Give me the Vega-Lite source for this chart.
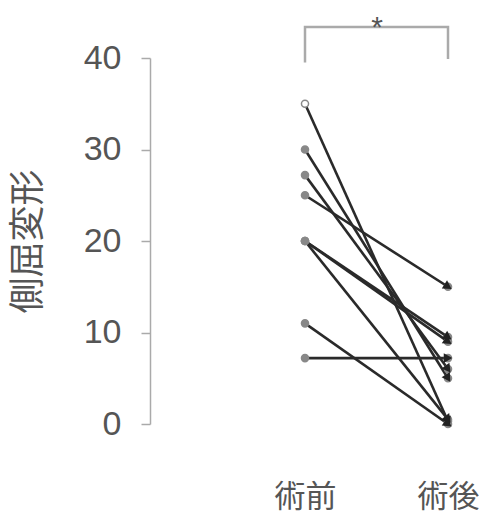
{
  "$schema": "https://vega.github.io/schema/vega-lite/v6.json",
  "autosize": "none",
  "width": 320,
  "height": 366,
  "padding": {"left": 150, "top": 58, "right": 9, "bottom": 92},
  "background": "white",
  "config": {
    "view": {"stroke": null},
    "font": "Liberation Sans, Noto Sans CJK JP",
    "axis": {"grid": false}
  },
  "datasets": {
    "pairs": [
      {"id": 1, "phase": "術前", "value": 35}, {"id": 1, "phase": "術後", "value": 0.3},
      {"id": 2, "phase": "術前", "value": 30}, {"id": 2, "phase": "術後", "value": 5},
      {"id": 3, "phase": "術前", "value": 27.2}, {"id": 3, "phase": "術後", "value": 6},
      {"id": 4, "phase": "術前", "value": 25}, {"id": 4, "phase": "術後", "value": 15},
      {"id": 5, "phase": "術前", "value": 20}, {"id": 5, "phase": "術後", "value": 9.5},
      {"id": 6, "phase": "術前", "value": 20}, {"id": 6, "phase": "術後", "value": 9},
      {"id": 7, "phase": "術前", "value": 20}, {"id": 7, "phase": "術後", "value": 0.5},
      {"id": 8, "phase": "術前", "value": 11}, {"id": 8, "phase": "術後", "value": 0},
      {"id": 9, "phase": "術前", "value": 7.2}, {"id": 9, "phase": "術後", "value": 7.2}
    ],
    "bracket": [
      {"phase": "術前", "value": 39.5, "k": 1},
      {"phase": "術前", "value": 43.4, "k": 2},
      {"phase": "術後", "value": 43.4, "k": 3},
      {"phase": "術後", "value": 39.9, "k": 4}
    ]
  },
  "encoding": {
    "x": {
      "field": "phase", "type": "nominal",
      "scale": {"type": "point", "domain": ["術前", "術後"], "range": [155, 298], "padding": 0},
      "axis": {"title": null, "domain": false, "ticks": false, "labelAngle": 0, "labelFontSize": 31, "labelColor": "#555", "labelPadding": 58}
    },
    "y": {
      "field": "value", "type": "quantitative",
      "scale": {"domain": [0, 40], "nice": false, "zero": true},
      "axis": {"title": "側屈変形", "values": [0, 10, 20, 30, 40], "domainColor": "#aaa", "domainWidth": 1.5, "tickColor": "#aaa", "tickWidth": 1.5, "tickSize": 9, "labelFontSize": 34, "labelColor": "#555", "labelPadding": 20, "titleFontSize": 36, "titleFontWeight": "normal", "titleColor": "#555", "titlePadding": 36}
    }
  },
  "layer": [
    {
      "data": {"name": "bracket"},
      "mark": {"type": "line", "color": "#aaa", "strokeWidth": 2.5},
      "encoding": {"order": {"field": "k", "type": "quantitative"}}
    },
    {
      "data": {"values": [{"phase": "術前", "value": 42.3, "label": "*"}]},
      "mark": {"type": "text", "dx": 72, "fontSize": 30, "color": "#555", "baseline": "alphabetic", "align": "center"},
      "encoding": {"text": {"field": "label"}}
    },
    {
      "data": {"name": "pairs"},
      "mark": {"type": "line", "color": "#2a2a2a", "strokeWidth": 2.6},
      "encoding": {"detail": {"field": "id"}}
    },
    {
      "data": {"name": "pairs"},
      "mark": {"type": "point", "filled": false, "size": 50, "strokeWidth": 1.5, "opacity": 1},
      "encoding": {
        "fill": {"condition": {"test": "datum.value == 35", "value": "white"}, "value": "#888"},
        "stroke": {"value": "#888"}
      }
    },
    {
      "data": {"name": "pairs"},
      "transform": [
        {"pivot": "phase", "value": "value", "groupby": ["id"]},
        {"calculate": "atan((datum['術前'] - datum['術後']) * 9.15 / 143) * 180 / PI", "as": "ang"},
        {"calculate": "'術後'", "as": "phase"}
      ],
      "mark": {"type": "point", "shape": "triangle-right", "filled": true, "size": 95, "color": "#222", "opacity": 1},
      "encoding": {
        "y": {"field": "術後", "type": "quantitative"},
        "angle": {"field": "ang", "type": "quantitative", "scale": null}
      }
    }
  ]
}
